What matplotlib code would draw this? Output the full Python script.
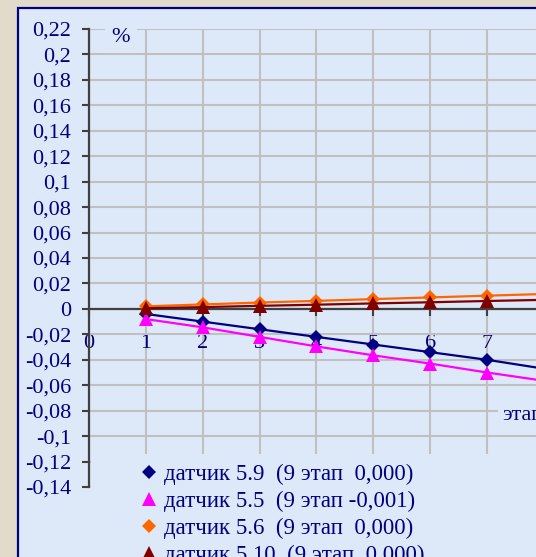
import numpy as np
import matplotlib.pyplot as plt
from matplotlib.patches import Rectangle
from matplotlib.lines import Line2D
from matplotlib.ticker import FuncFormatter

# data (stage number vs. relative change, %)
stages = [1, 2, 3, 4, 5, 6, 7, 8]
s59 = [-0.004, -0.010, -0.016, -0.022, -0.028, -0.034, -0.040, -0.047]
s55 = [-0.008, -0.0145, -0.022, -0.0295, -0.0365, -0.043, -0.050, -0.0565]
s56 = [0.002, 0.0035, 0.005, 0.0063, 0.0077, 0.009, 0.0104, 0.0117]
s510 = [0.0005, 0.0014, 0.0024, 0.0033, 0.0043, 0.0052, 0.0062, 0.0071]

labels = ['датчик 5.9  (9 этап  0,000)',
          'датчик 5.5  (9 этап -0,001)',
          'датчик 5.6  (9 этап  0,000)',
          'датчик 5.10  (9 этап  0,000)']
colors = ['#000080', '#ff00ff', '#ff6600', '#800000']
markers = ['D', '^', 'D', '^']
msizes = [7, 10.5, 7, 10.5]

y_ticks = np.round(np.arange(-0.14, 0.2201, 0.02), 2)
x_ticks = [0, 1, 2, 3, 4, 5, 6, 7, 8]

bg = '#dde9f8'
navy = '#000080'
axis_col = '#404040'
fs = 16

plt.rcParams['font.family'] = ['Liberation Serif', 'DejaVu Serif']

W, H = 536, 557
fig = plt.figure(figsize=(W / 100, H / 100), dpi=100)
fig.patch.set_facecolor('#e2dacb')

# chart area frame
fig.patches.append(Rectangle((18 / W, -0.1), 1.2, 1 - 8 / H + 0.1,
                             transform=fig.transFigure, facecolor=bg,
                             edgecolor=navy, linewidth=1.6, zorder=-5))

px = 56.86  # pixels per stage
ax = fig.add_axes([89 / W, 1 - 487 / H, 9 * px / W, 458 / H])
ax.patch.set_visible(False)
ax.set_axisbelow(True)
ax.set_xlim(0, 9)
ax.set_ylim(-0.14, 0.22)

for ys, c, m, ms in zip([s59, s55, s56, s510], colors, markers, msizes):
    ax.plot(stages, ys, color=c, linewidth=1.6, marker=m, markersize=ms,
            markeredgewidth=0, zorder=3)

# spines: y axis on the left, x axis through zero
for s in ['top', 'right']:
    ax.spines[s].set_visible(False)
ax.spines['left'].set_color(axis_col)
ax.spines['left'].set_linewidth(1.6)
ax.spines['bottom'].set_position(('data', 0))
ax.spines['bottom'].set_color(axis_col)
ax.spines['bottom'].set_linewidth(1.6)

ax.set_yticks(y_ticks)
ax.set_xticks(x_ticks)
ax.yaxis.set_major_formatter(FuncFormatter(
    lambda v, p: '0' if abs(v) < 1e-9 else f'{round(v, 2):g}'.replace('.', ',')))
ax.tick_params(axis='both', direction='out', length=5, width=1.5,
               color=axis_col, labelcolor=navy, labelsize=fs)
ax.tick_params(axis='y', pad=8)
ax.tick_params(axis='x', pad=13)
ax.grid(True, color='#c0c0c0', linewidth=1.5)

# legend area hides the lower part of the grid
ax.add_patch(Rectangle((0.003, -0.2), 1.2, 0.2 - 0.114,
                       transform=ax.get_yaxis_transform(),
                       facecolor=bg, edgecolor='none', zorder=1))

ax.text(0.56, 0.2135, '%', color=navy, fontsize=fs, ha='center', va='center',
        bbox=dict(boxstyle='square,pad=0.3', facecolor=bg, edgecolor='none'),
        zorder=2)
ax.text(7.26, -0.0835, 'этап', color=navy, fontsize=fs, ha='left', va='center',
        bbox=dict(boxstyle='square,pad=0.15', facecolor=bg, edgecolor='none'),
        zorder=2)

handles = [Line2D([], [], linestyle='none', marker=m, markersize=ms,
                  color=c, markeredgewidth=0)
           for c, m, ms in zip(colors, markers, msizes)]
leg = fig.legend(handles, labels, loc='upper left',
                 bbox_to_anchor=(138 / W, 1 - 464 / H),
                 frameon=False, fontsize=16.5, handlelength=1.0,
                 handletextpad=0.12, borderpad=0, borderaxespad=0,
                 labelspacing=0.25, labelcolor=navy)

fig.savefig('out.png', dpi=100)
